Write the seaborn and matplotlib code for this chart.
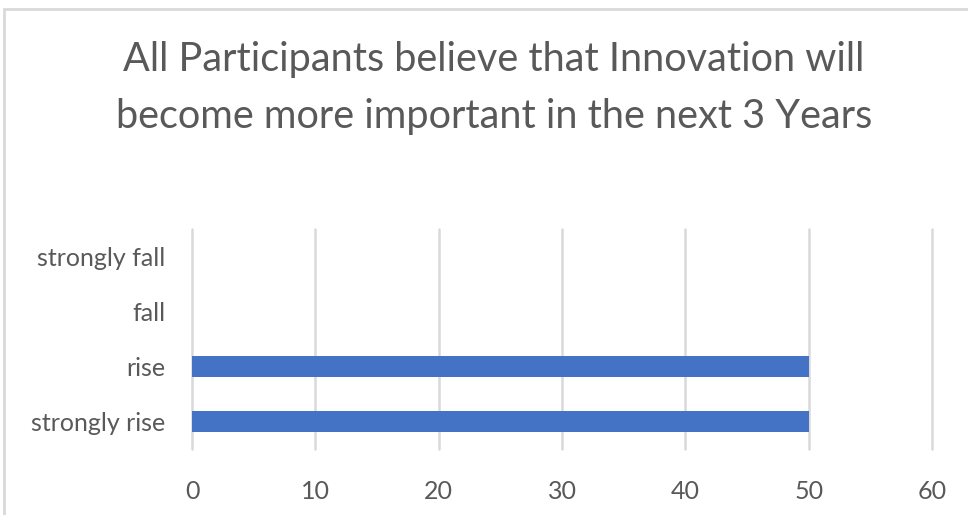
import matplotlib
matplotlib.use("Agg")
import matplotlib.pyplot as plt
import seaborn as sns
import pandas as pd
from matplotlib.patches import Rectangle

categories = ["strongly fall", "fall", "rise", "strongly rise"]
values = [0, 0, 50, 50]
x_ticks = [0, 10, 20, 30, 40, 50, 60]
title = "All Participants believe that Innovation will\nbecome more important in the next 3 Years"

sns.set_theme(style="white")
plt.rcParams["font.family"] = ["Lato", "DejaVu Sans"]

text_color = "#595959"
grid_color = "#d9d9d9"
bar_color = "#4472C4"

df = pd.DataFrame({"category": categories, "value": values})

fig = plt.figure(figsize=(9.68, 5.15), dpi=100)
ax = fig.add_axes([192 / 968, 1 - 449 / 515, (932 - 192) / 968, (449 - 229) / 515])

sns.barplot(data=df, x="value", y="category", order=categories, orient="h",
            color=bar_color, saturation=1, width=0.38, linewidth=0,
            ax=ax, zorder=3)

ax.set_xlim(0, 60)
ax.set_xticks(x_ticks)
ax.set_xticklabels([str(t) for t in x_ticks])
ax.set_ylim(3.5, -0.5)
for t in x_ticks:
    ax.axvline(t, color=grid_color, linewidth=1.8, zorder=1, clip_on=False)
for side in ["top", "right", "bottom", "left"]:
    ax.spines[side].set_visible(False)
ax.set_xlabel("")
ax.set_ylabel("")
ax.tick_params(axis="x", length=0, pad=22, labelsize=18, labelcolor=text_color)
ax.tick_params(axis="y", length=0, pad=19, labelsize=18, labelcolor=text_color)

fig.text(0.510, 1 - 88 / 515, title, ha="center", va="center",
         fontsize=28.5, color=text_color, linespacing=1.65)

# chart-area frame
fig.patches.append(Rectangle((4 / 968, -0.1), 1.2, 1 - 9 / 515 + 0.1,
                             transform=fig.transFigure, fill=False,
                             edgecolor=grid_color, linewidth=2))

fig.savefig("out.png", dpi=100, facecolor="white")
